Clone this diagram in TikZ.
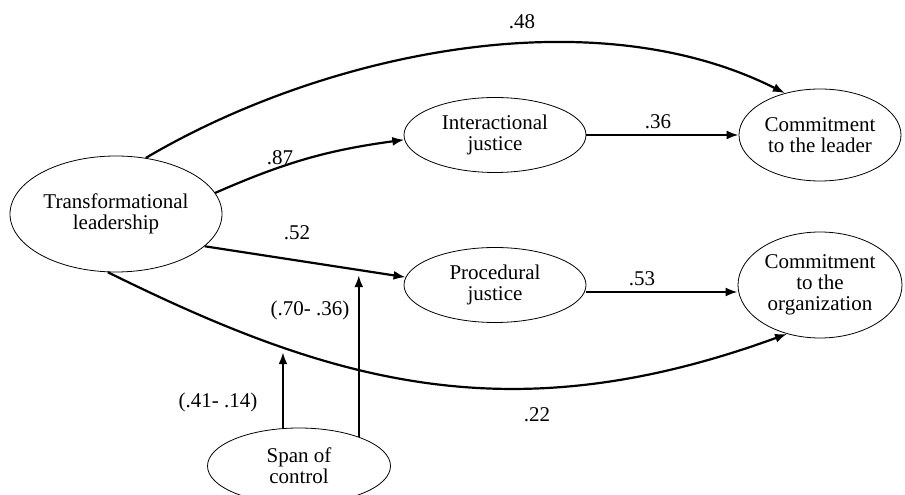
\documentclass[tikz,border=0pt]{standalone}
\usepackage{fontspec}
\setmainfont{Liberation Serif}
\usetikzlibrary{shapes.geometric, arrows.meta, positioning}

\tikzset{
  construct/.style={draw, ellipse, line width=0.8pt, inner sep=0pt, align=center, font=\fontsize{21}{21}\selectfont},
  effect/.style={line width=2.2pt, -{Latex[length=12pt, width=9pt]}},
  coef/.style={inner sep=0pt, font=\fontsize{21}{21}\selectfont},
}

\begin{document}
\begin{tikzpicture}[x=1pt, y=1pt]
  \useasboundingbox (0,0) rectangle (905,495);
  % Constructs
  \node[construct, minimum width=212pt, minimum height=116pt] (tl) at (116,281) {Transformational\\leadership};
  \node[construct, minimum width=182pt, minimum height=75pt] (ij) at (495,360) {Interactional\\justice};
  \node[construct, minimum width=182pt, minimum height=75pt] (pj) at (495,210) {Procedural\\justice};
  \node[construct, minimum width=162pt, minimum height=92pt] (cl) at (820,360) {Commitment\\to the leader};
  \node[construct, minimum width=164pt, minimum height=106pt] (co) at (820,210) {Commitment\\to the\\organization};
  \node[construct, minimum width=183pt, minimum height=76pt] (sc) at (299,29) {Span of\\control};
  % Direct paths
  \draw[effect] (tl.62) .. controls (320,440) and (590,500) .. (cl.130);
  \draw[effect] (tl.12) to[bend left=8] (ij.183);
  \draw[effect] (ij.east) -- (cl.west);
  \draw[effect] (tl.340) -- (pj.175) coordinate[pos=0.774] (p52);
  \draw[effect] ([yshift=-7pt]pj.east) -- ([yshift=-7pt]co.west);
  \draw[effect] (tl.262) .. controls (332,112) and (510,60) .. (co.236) coordinate[pos=0.27] (p22);
  % Moderation by span of control
  \draw[effect, shorten >=5pt] (sc.113) -- (sc.113 |- p22);
  \draw[effect, shorten >=5pt] (sc.26) -- (sc.26 |- p52);
  % Coefficients
  \node[coef] (l48) at (522,473) {.48};
  \node[coef] (l87) at (280,337) {.87};
  \node[coef] (l36) at (658,373) {.36};
  \node[coef] (l52) at (297,262) {.52};
  \node[coef] (l53) at (642,216) {.53};
  \node[coef] (l22) at (537,80) {.22};
  \node[coef] (l70) at (310,185) {(.70- .36)};
  \node[coef] (l41) at (218,93) {(.41- .14)};
\end{tikzpicture}
\end{document}
